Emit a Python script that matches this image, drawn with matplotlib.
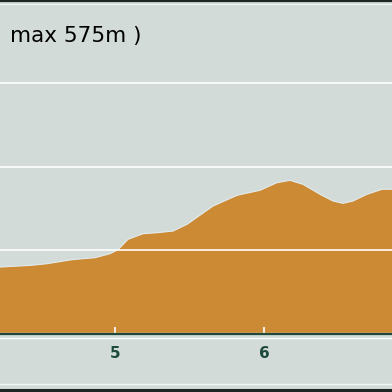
import matplotlib
matplotlib.use("Agg")
import matplotlib.pyplot as plt
from matplotlib.lines import Line2D

# Distance (km) and elevation (m)
dist_km = [4.228, 4.443, 4.544, 4.711, 4.866, 4.966, 5.020, 5.087, 5.188, 5.282,
           5.389, 5.483, 5.658, 5.819, 5.973, 6.087, 6.174, 6.262, 6.376, 6.463,
           6.530, 6.597, 6.691, 6.792, 6.859]
elev_m = [280.0, 282.1, 284.0, 288.8, 291.2, 295.9, 300.7, 313.1, 319.8, 321.0,
          323.0, 331.0, 352.9, 365.7, 371.7, 380.8, 383.6, 378.8, 366.9, 358.9,
          356.1, 358.9, 366.9, 372.9, 372.9]
x_ticks = [5, 6]
x_tick_labels = ["5", "6"]
grid_levels = [300, 400, 500]
base_level = 200
title_text = "max 575m )"

BG = "#d2dbd8"
ORANGE = "#cd8a35"
GREEN = "#1d4a3c"

W = H = 392
fig = plt.figure(figsize=(3.92, 3.92), dpi=100, facecolor=BG)
bottom = (392 - 334) / 392
ax = fig.add_axes([0, bottom, 1, 1 - bottom], facecolor=BG)
ax.set_xlim(4.228, 6.859)
ax.set_ylim(base_level, base_level + 334 * 100 / 83.7)
ax.set_axisbelow(False)

ax.fill_between(dist_km, base_level, elev_m, color=ORANGE, lw=0, zorder=2)
ax.plot(dist_km, elev_m, color="#e2ecee", lw=0.8, zorder=2.2)
for g in grid_levels:
    ax.axhline(g, color="white", lw=1.2, zorder=3)
ax.axhline(base_level + 2.5 * 100 / 83.7, color="#e0a050", lw=0.8, zorder=2.3)

for s in ["top", "left", "right"]:
    ax.spines[s].set_visible(False)
ax.spines["bottom"].set_color(GREEN)
ax.spines["bottom"].set_linewidth(1.6)
ax.spines["bottom"].set_zorder(4)
ax.set_yticks([])
ax.set_xticks(x_ticks)
ax.set_xticklabels(x_tick_labels)
ax.tick_params(axis="x", direction="in", length=5, width=1.2, color="white",
               pad=9, labelsize=11, labelcolor=GREEN)
for lab in ax.get_xticklabels():
    lab.set_fontweight("bold")
    lab.set_family("DejaVu Sans")

# frame decorations
def hline(ypix, color, lw):
    y = 1 - ypix / H
    fig.add_artist(Line2D([0, 1], [y, y], transform=fig.transFigure, color=color, lw=lw))

hline(1.0, "#1e2624", 1.6)
hline(3.5, "#f2f5f4", 0.8)
hline(337.5, "white", 1.0)
hline(384.0, "#f2f5f4", 1.0)
hline(389.5, "#1e2624", 2.2)

fig.text(10 / W, 1 - 42 / H, title_text, fontsize=15.5, family="DejaVu Sans",
         color="black", va="baseline", ha="left")

fig.savefig("out.png", dpi=100, facecolor=BG)
